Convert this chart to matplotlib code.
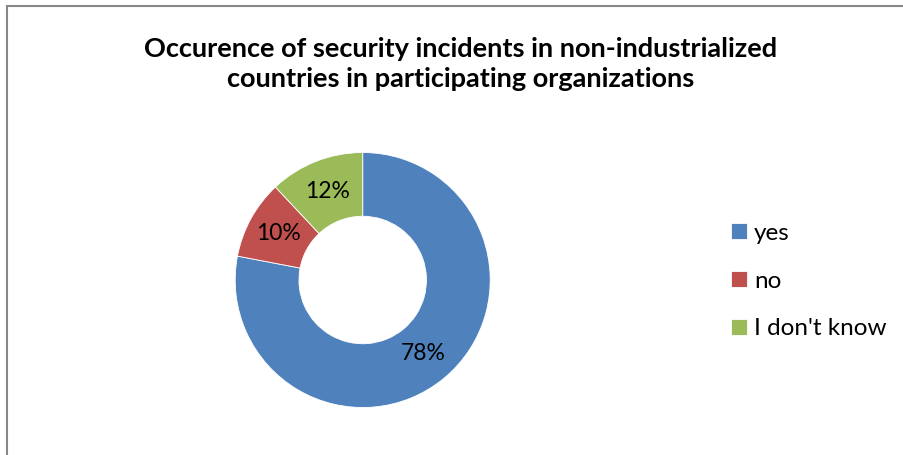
import matplotlib
matplotlib.use("Agg")
import matplotlib.pyplot as plt
from matplotlib.patches import Rectangle

plt.rcParams['font.family'] = ['Lato', 'DejaVu Sans']

labels = ["yes", "no", "I don't know"]
shares = [78, 10, 12]
colors = ["#4F81BD", "#C0504D", "#9BBB59"]

fig = plt.figure(figsize=(9.04, 4.55), dpi=100)

# chart frame, clipped by the figure on the right and bottom
fig.patches.append(Rectangle((7 / 904, -0.1), 1.2, (455 - 6.5) / 455 + 0.1,
                             transform=fig.transFigure, fill=False,
                             edgecolor="#888888", linewidth=1.5))

fig.text(0.510, 0.860, "Occurence of security incidents in non-industrialized\ncountries in participating organizations",
         ha="center", va="center", fontsize=19.5, fontweight="bold", linespacing=1.3)

cx, cy, R = 362.7 / 904, (455 - 280) / 455, 127.5
ax = fig.add_axes([cx - R / 904, cy - R / 455, 2 * R / 904, 2 * R / 455])
wedges, _, autotexts = ax.pie(shares, colors=colors, startangle=90, counterclock=False,
                              radius=1, autopct="%d%%", pctdistance=0.75,
                              wedgeprops=dict(width=0.5, edgecolor="white", linewidth=0.6),
                              textprops=dict(fontsize=16.5, color="black"))
ax.set_xlim(-1, 1)
ax.set_ylim(-1, 1)
ax.set_aspect("equal")

fig.legend(wedges, labels, loc="center left", bbox_to_anchor=(721 / 904, (455 - 281) / 455),
           frameon=False, fontsize=17.5, handlelength=0.65, handleheight=0.65,
           handletextpad=0.3, labelspacing=1.1, borderaxespad=0)

fig.savefig("out.png", dpi=100)
